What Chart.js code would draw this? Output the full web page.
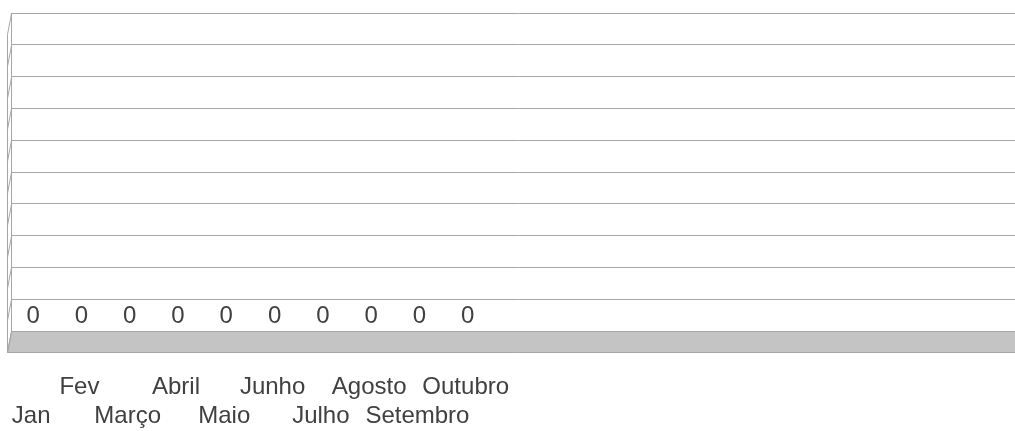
<!DOCTYPE html>
<html>
<head>
<meta charset="utf-8">
<script src="https://cdn.jsdelivr.net/npm/chart.js@4/dist/chart.umd.min.js"></script>
<style>
    html, body { margin: 0; padding: 0; background: #fff; overflow: hidden; }
    #wrap { width: 1015px; height: 431px; overflow: hidden; }
</style>
</head>
<body>
<!-- canvas is a bit wider than the window: the plot runs off the right edge -->
<div id="wrap"><canvas id="chart" width="1025" height="431"></canvas></div>
<script>
(function () {
    'use strict';

    // month names shown under the floor; the rest of the axis is empty
    var months = ['Jan', 'Fev', 'Março', 'Abril', 'Maio', 'Junho', 'Julho', 'Agosto', 'Setembro', 'Outubro'];
    var monthValues = [0, 0, 0, 0, 0, 0, 0, 0, 0, 0];
    var emptySlots = 11;

    var yMin = 0;
    var yMax = 10;
    var yStep = 1;

    var labels = months.slice();
    var values = monthValues.slice();
    for (var i = 0; i < emptySlots; i++) {
        labels.push('');
        values.push(null);
    }

    var FONT = '"Liberation Sans", Arial, sans-serif';
    var TEXT = '#404040';
    var LINE = '#a6a6a6';
    var FLOOR = '#c4c4c4';
    var DX = -4;   // 3d depth shift
    var DY = 21;

    // floor + side wall, drawn before the datasets
    var wallPlugin = {
        id: 'wall3d',
        beforeDatasetsDraw: function (chart) {
            var ctx = chart.ctx;
            var area = chart.chartArea;
            var ys = chart.scales.y;
            var yBase = Math.round(ys.getPixelForValue(yMin)) + 0.5;
            var left = Math.round(area.left) + 0.5;
            ctx.save();

            // floor
            ctx.beginPath();
            ctx.moveTo(left, yBase);
            ctx.lineTo(chart.width + 10, yBase);
            ctx.lineTo(chart.width + 10, yBase + DY);
            ctx.lineTo(left + DX, yBase + DY);
            ctx.closePath();
            ctx.fillStyle = FLOOR;
            ctx.fill();
            ctx.strokeStyle = LINE;
            ctx.lineWidth = 1;
            ctx.stroke();

            // side wall
            ctx.beginPath();
            var ticks = ys.ticks;
            for (var t = 0; t < ticks.length; t++) {
                var py = Math.round(ys.getPixelForValue(ticks[t].value)) + 0.5;
                ctx.moveTo(left, py);
                ctx.lineTo(left + DX, py + DY);
            }
            var top = Math.round(ys.getPixelForValue(yMax)) + 0.5;
            ctx.moveTo(left + DX, top + DY);
            ctx.lineTo(left + DX, yBase + DY);
            ctx.stroke();
            ctx.restore();
        }
    };

    // value labels above each bar
    var valueLabels = {
        id: 'valueLabels',
        afterDatasetsDraw: function (chart) {
            var ctx = chart.ctx;
            var meta = chart.getDatasetMeta(0);
            var data = chart.data.datasets[0].data;
            ctx.save();
            ctx.font = '24px ' + FONT;
            ctx.fillStyle = TEXT;
            ctx.textAlign = 'center';
            ctx.textBaseline = 'alphabetic';
            for (var k = 0; k < meta.data.length; k++) {
                if (data[k] === null || data[k] === undefined) {
                    continue;
                }
                var bar = meta.data[k];
                ctx.fillText(String(data[k]), bar.x - 2, bar.y - 8);
            }
            ctx.restore();
        }
    };

    new Chart(document.getElementById('chart'), {
        type: 'bar',
        data: {
            labels: labels,
            datasets: [{
                label: 'Valor',
                data: values,
                backgroundColor: '#4f81bd',
                borderWidth: 0
            }]
        },
        plugins: [wallPlugin, valueLabels],
        options: {
            responsive: false,
            animation: false,
            layout: {
                padding: { top: 13, left: 11, right: 0, bottom: 0 }
            },
            plugins: {
                legend: { display: false },
                tooltip: { enabled: false }
            },
            scales: {
                x: {
                    grid: { display: false, drawTicks: false },
                    border: { display: false },
                    ticks: {
                        autoSkip: false,
                        maxRotation: 0,
                        minRotation: 0,
                        padding: 42,
                        labelOffset: -4,
                        color: TEXT,
                        font: { family: FONT, size: 24, lineHeight: '29px' },
                        callback: function (val, idx) {
                            var name = labels[idx];
                            if (!name) {
                                return '';
                            }
                            // staggered: Jan, Março... on the lower row
                            return idx % 2 === 0 ? ['', name] : [name];
                        }
                    },
                    afterFit: function (scale) {
                        scale.height = 100;
                        scale.paddingLeft = 0;
                        scale.paddingRight = 0;
                    }
                },
                y: {
                    min: yMin,
                    max: yMax,
                    ticks: { display: false, stepSize: yStep },
                    grid: { color: LINE, lineWidth: 1, drawTicks: false },
                    border: { display: true, color: LINE },
                    afterFit: function (scale) {
                        scale.width = 0;
                        scale.paddingTop = 0;
                        scale.paddingBottom = 0;
                    }
                }
            }
        }
    });
})();
</script>
</body>
</html>
